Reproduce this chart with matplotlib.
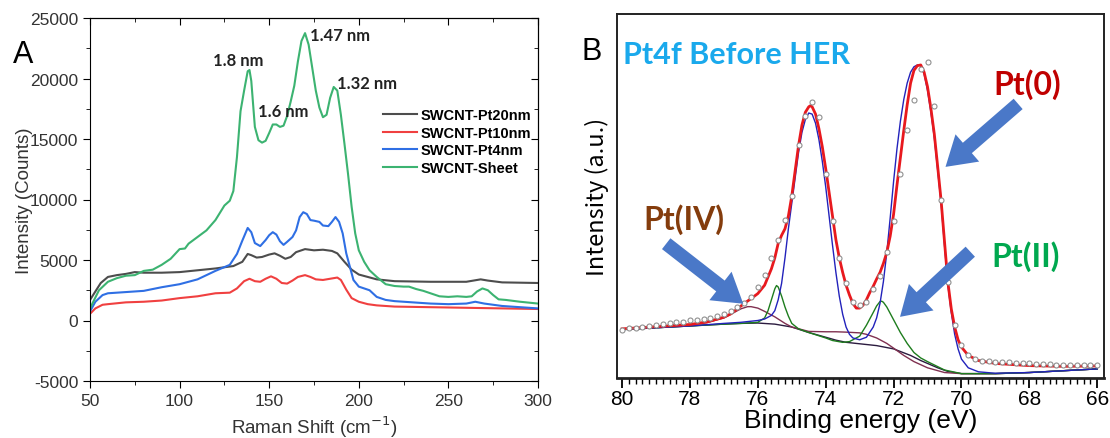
import numpy as np
import matplotlib
matplotlib.use("Agg")
import matplotlib.pyplot as plt

plt.rcParams["font.family"] = ["Liberation Sans", "DejaVu Sans"]
plt.rcParams["axes.unicode_minus"] = False

# ---------------- Panel A : Raman RBM region ----------------
sheet_x = [50, 55, 60, 65, 70, 75, 80, 85, 90, 95, 100, 103, 105, 110, 115, 120, 125, 128,
           130, 132, 134, 136, 138, 139, 140, 142, 144, 146, 148, 150, 152, 154, 156, 158,
           160, 162, 164, 166, 168, 170, 172, 174, 176, 178, 180, 182, 184, 186, 188, 190,
           192, 194, 196, 198, 200, 203, 206, 210, 215, 220, 225, 228, 232, 236, 240, 245,
           250, 255, 260, 263, 266, 269, 272, 275, 278, 282, 290, 300]
sheet_y = [1000, 2500, 3200, 3500, 3700, 3750, 4100, 4200, 4600, 5100, 5900, 5950, 6350, 6900,
           7450, 8300, 9500, 9900, 10700, 13500, 17300, 19000, 20600, 20700, 19800, 16000,
           14900, 14700, 14850, 15500, 16200, 16200, 16000, 16100, 16900, 18100, 19400, 21400,
           23100, 23750, 22800, 20900, 19000, 17600, 16800, 17000, 18400, 19300, 19000, 17000,
           14600, 12100, 9400, 7200, 5800, 4850, 4150, 3600, 3000, 2850, 2800, 2800, 2600, 2450,
           2250, 2000, 1950, 2000, 1950, 2000, 2400, 2650, 2500, 2100, 1750, 1700, 1550, 1400]

pt20_x = [50, 53, 56, 60, 65, 70, 75, 80, 90, 100, 110, 120, 130, 135, 138, 140, 143, 146,
          150, 153, 156, 159, 162, 165, 170, 175, 180, 185, 188, 192, 196, 200, 205, 210,
          220, 240, 260, 268, 272, 280, 300]
pt20_y = [1700, 2400, 3100, 3600, 3750, 3850, 4000, 3950, 3950, 4000, 4150, 4300, 4500, 4850,
          5500, 5400, 5200, 5250, 5450, 5550, 5350, 5100, 5250, 5650, 5900, 5800, 5850, 5750,
          5550, 4850, 4200, 3800, 3600, 3400, 3250, 3200, 3200, 3400, 3300, 3150, 3100]

pt4_x = [50, 53, 57, 60, 70, 80, 90, 100, 110, 120, 128, 132, 135, 138, 140, 142, 145, 148,
         150, 152, 154, 156, 158, 160, 163, 165, 167, 169, 171, 173, 175, 178, 180, 183, 185,
         187, 189, 191, 193, 195, 197, 200, 203, 206, 210, 215, 220, 230, 240, 250, 260, 265,
         270, 280, 300]
pt4_y = [750, 1550, 2100, 2250, 2350, 2450, 2750, 3000, 3400, 4100, 4600, 5500, 6600, 7650,
         7300, 6400, 6150, 6650, 7050, 7300, 7100, 6550, 6250, 6500, 6900, 7450, 8550, 8950,
         8800, 8300, 8250, 8150, 7850, 7800, 8150, 8550, 8150, 7200, 5550, 4450, 3350, 2800,
         2650, 2500, 1950, 1700, 1600, 1500, 1400, 1350, 1400, 1550, 1400, 1200, 1000]

pt10_x = [50, 53, 57, 60, 70, 80, 90, 100, 110, 120, 128, 132, 136, 139, 142, 145, 148, 151,
          154, 157, 160, 163, 166, 170, 173, 176, 180, 184, 188, 190, 193, 196, 200, 205, 210,
          220, 240, 260, 280, 300]
pt10_y = [550, 1000, 1300, 1350, 1500, 1550, 1650, 1850, 2000, 2250, 2300, 2650, 3250, 3450,
          3250, 3200, 3450, 3650, 3450, 3100, 3050, 3300, 3600, 3750, 3600, 3400, 3350, 3450,
          3550, 3350, 2550, 1850, 1550, 1350, 1250, 1150, 1100, 1050, 1000, 950]

peak_labels = ["1.8 nm", "1.6 nm", "1.47 nm", "1.32 nm"]
peak_lx = [133, 158, 189.5, 204.5]
peak_ly = [21570, 17310, 23630, 19590]

# ---------------- Panel B : Pt4f XPS ----------------
data_e = [80.0, 79.8, 79.6, 79.4, 79.2, 79.0, 78.8, 78.6, 78.4, 78.2, 78.0, 77.8, 77.6, 77.4,
          77.2, 77.0, 76.8, 76.6, 76.4, 76.2, 76.0, 75.8, 75.6, 75.4, 75.2, 75.0, 74.8, 74.6,
          74.4, 74.2, 74.0, 73.8, 73.6, 73.4, 73.2, 73.0, 72.8, 72.6, 72.4, 72.2, 72.0, 71.8,
          71.6, 71.4, 71.2, 71.0, 70.8, 70.6, 70.4, 70.2, 70.0, 69.8, 69.6, 69.4, 69.2, 69.0,
          68.8, 68.6, 68.4, 68.2, 68.0, 67.8, 67.6, 67.4, 67.2, 67.0, 66.8, 66.6, 66.4, 66.2,
          66.0]
data_i = [133, 136, 137, 140, 143, 145, 147, 150, 153, 155, 158, 160, 163, 166, 170, 176, 183,
          195, 205, 222, 250, 283, 330, 380, 435, 500, 640, 720, 757, 718, 560, 430, 330, 260,
          210, 200, 210, 245, 280, 345, 430, 560, 680, 765, 850, 868, 748, 488, 263, 145, 90,
          64, 53, 48, 46, 45, 44, 43, 42, 41, 40, 39, 38, 38, 37, 36, 36, 35, 35, 35, 35]

env_e = [80.0, 79.0, 78.0, 77.5, 77.0, 76.8, 76.6, 76.4, 76.2, 76.0, 75.8, 75.6, 75.5, 75.4,
         75.3, 75.2, 75.1, 75.0, 74.9, 74.8, 74.7, 74.6, 74.5, 74.45, 74.4, 74.3, 74.2, 74.1,
         74.0, 73.9, 73.8, 73.7, 73.6, 73.5, 73.4, 73.3, 73.2, 73.1, 73.0, 72.9, 72.8, 72.7,
         72.6, 72.5, 72.4, 72.3, 72.2, 72.1, 72.0, 71.9, 71.8, 71.7, 71.6, 71.5, 71.4, 71.3,
         71.2, 71.1, 71.0, 70.9, 70.8, 70.7, 70.6, 70.5, 70.4, 70.3, 70.2, 70.1, 70.0, 69.8,
         69.5, 69.0, 68.0, 67.0, 66.0]
env_i = [135, 141, 147, 154, 167, 176, 190, 205, 218, 232, 255, 300, 330, 370, 392, 410, 445,
         500, 570, 639, 695, 730, 745, 748, 745, 725, 685, 635, 575, 510, 445, 380, 330, 290,
         255, 228, 205, 192, 192, 200, 215, 235, 252, 272, 290, 315, 345, 390, 450, 530, 605,
         680, 750, 810, 845, 858, 860, 840, 800, 740, 670, 580, 488, 375, 263, 190, 140, 105,
         85, 62, 48, 40, 34, 32, 33]

pt0_e = [80.0, 78.0, 77.0, 76.5, 76.0, 75.8, 75.6, 75.5, 75.4, 75.3, 75.2, 75.1, 75.0, 74.9,
         74.8, 74.7, 74.6, 74.5, 74.4, 74.3, 74.2, 74.1, 74.0, 73.9, 73.8, 73.7, 73.6, 73.5,
         73.4, 73.3, 73.2, 73.0, 72.8, 72.6, 72.5, 72.4, 72.3, 72.2, 72.1, 72.0, 71.9, 71.8,
         71.7, 71.6, 71.5, 71.4, 71.3, 71.2, 71.1, 71.0, 70.9, 70.8, 70.7, 70.6, 70.5, 70.4,
         70.3, 70.2, 70.1, 70.0, 69.8, 69.5, 69.0, 68.0, 67.0, 66.0]
pt0_i = [133, 143, 150, 153, 158, 162, 172, 185, 215, 260, 330, 410, 480, 550, 620, 675, 710,
         728, 725, 700, 655, 595, 525, 445, 365, 290, 225, 175, 140, 120, 110, 105, 112, 140,
         165, 205, 265, 345, 440, 540, 630, 705, 765, 810, 840, 855, 860, 858, 835, 790, 730,
         660, 570, 480, 365, 255, 180, 120, 80, 52, 28, 17, 13, 15, 20, 25]

pt2_e = [80.0, 78.0, 77.0, 76.5, 76.0, 75.8, 75.7, 75.6, 75.5, 75.45, 75.4, 75.3, 75.2, 75.1,
         75.0, 74.8, 74.5, 74.0, 73.8, 73.5, 73.3, 73.0, 72.8, 72.6, 72.5, 72.4, 72.35, 72.3,
         72.2, 72.0, 71.8, 71.6, 71.4, 71.2, 71.0, 70.5, 70.0, 69.0, 68.0, 67.0, 66.0]
pt2_i = [133, 143, 148, 150, 153, 165, 185, 215, 245, 254, 250, 225, 195, 170, 150, 135, 125,
         110, 103, 98, 100, 115, 145, 180, 198, 210, 211, 208, 195, 160, 125, 95, 70, 55, 45,
         22, 12, 12, 15, 20, 25]

pt4_e = [80.0, 79.0, 78.0, 77.5, 77.0, 76.7, 76.5, 76.3, 76.2, 76.0, 75.8, 75.5, 75.2, 75.0,
         74.5, 74.0, 73.7, 73.4, 73.0, 72.8, 72.5, 72.2, 72.0, 71.7, 71.4, 71.0, 70.5, 70.0,
         69.0, 68.0, 67.0, 66.0]
pt4_i = [135, 140, 146, 152, 165, 180, 190, 196, 196, 192, 183, 168, 150, 140, 128, 127, 127,
         126, 124, 120, 110, 95, 82, 62, 45, 28, 15, 12, 12, 15, 20, 25]

bg_e = [80.0, 79.0, 78.0, 77.0, 76.5, 76.0, 75.5, 75.0, 74.5, 74.0, 73.7, 73.4, 73.0, 72.5,
        72.0, 71.5, 71.2, 71.0, 70.7, 70.4, 70.0, 69.0, 68.0, 67.0, 66.0]
bg_i = [133, 138, 143, 148, 150, 151, 148, 140, 125, 112, 104, 98, 94, 89, 80, 62, 48, 40, 28,
        18, 12, 12, 15, 20, 25]

W, H = 1110, 439
fig = plt.figure(figsize=(W / 100, H / 100), dpi=100)
fig.patch.set_facecolor("white")

# ---- A ----
axA = fig.add_axes([90 / W, 1 - 382 / H, 448 / W, 363 / H])
axA.plot(pt20_x, pt20_y, color="#4d4d4d", lw=1.5, label="SWCNT-Pt20nm")
axA.plot(pt10_x, pt10_y, color="#f04040", lw=1.5, label="SWCNT-Pt10nm")
axA.plot(pt4_x, pt4_y, color="#2f6fe4", lw=1.5, label="SWCNT-Pt4nm")
axA.plot(sheet_x, sheet_y, color="#3cb371", lw=1.5, label="SWCNT-Sheet")
axA.set_xlim(50, 300)
axA.set_ylim(-5000, 25000)
axA.set_xticks(range(50, 301, 50))
axA.set_xticks(range(75, 300, 50), minor=True)
axA.set_yticks(range(-5000, 25001, 5000))
axA.set_yticks(range(-2500, 25000, 5000), minor=True)
axA.tick_params(which="both", direction="out", labelsize=12.5, labelcolor="#333333")
axA.tick_params(which="major", length=5)
axA.tick_params(which="minor", length=3)
sx = axA.secondary_xaxis("top")
sx.set_xticks(range(50, 301, 50))
sx.set_xticks(range(75, 300, 50), minor=True)
sx.tick_params(which="major", direction="in", length=5, labeltop=False)
sx.tick_params(which="minor", direction="in", length=3)
sy = axA.secondary_yaxis("right")
sy.set_yticks(range(-5000, 25001, 5000))
sy.set_yticks(range(-2500, 25000, 5000), minor=True)
sy.tick_params(which="major", direction="in", length=5, labelright=False)
sy.tick_params(which="minor", direction="in", length=3)
axA.set_xlabel("Raman Shift (cm$^{-1}$)", fontsize=13.5, color="#333333", labelpad=4)
axA.set_ylabel("Intensity (Counts)", fontsize=13.5, color="#333333", labelpad=-2)
for t, lx, ly in zip(peak_labels, peak_lx, peak_ly):
    axA.text(lx, ly, t, fontsize=12, fontweight="bold", family="Lato",
             ha="center", va="center", color="#222222")
axA.legend(loc="upper left", bbox_to_anchor=(0.654, 0.752), frameon=False,
           prop={"weight": "bold", "size": 10.5, "family": "Liberation Sans"},
           handlelength=2.3, handletextpad=0.3, labelspacing=0.25,
           borderpad=0, borderaxespad=0)
fig.text(23 / W, 1 - 55 / H, "A", fontsize=22, ha="center", va="center")

# ---- B ----
axB = fig.add_axes([617 / W, 1 - 379 / H, 487 / W, 364 / H])
axB.plot(bg_e, bg_i, color="#2b1b3f", lw=1.0)
axB.plot(pt4_e, pt4_i, color="#803050", lw=1.0)
axB.plot(pt2_e, pt2_i, color="#1e7d1e", lw=1.0)
axB.plot(pt0_e, pt0_i, color="#2222bb", lw=1.0)
axB.plot(env_e, env_i, color="#e8191e", lw=2.0)
axB.plot(data_e, data_i, ls="none", marker="o", ms=3.6, mfc="white",
         mec="#909090", mew=0.8)
axB.set_xlim(80.15, 65.8)
axB.set_ylim(0, 1000)
axB.set_xticks(range(80, 65, -2))
axB.set_xticks(np.arange(66, 80.01, 0.2), minor=True)
axB.set_yticks([])
axB.tick_params(axis="x", which="major", direction="out", length=7, width=1.3,
                labelsize=15, pad=1)
axB.tick_params(axis="x", which="minor", direction="out", length=4, width=1.0)
for k, s in axB.spines.items():
    s.set_linewidth(1.4)
    s.set_color("#222222")
axB.spines["bottom"].set_linewidth(2.0)
axB.set_xlabel("Binding energy (eV)", fontsize=19, labelpad=0)
axB.set_ylabel("Intensity (a.u.)", fontsize=17, family="Noto Sans CJK JP", labelpad=6)

axB.text(79.97, 890, "Pt4f Before HER", fontsize=22, fontweight="bold", family="Lato",
         color="#1aa9ec", ha="left", va="center")
axB.text(68.06, 808, "Pt(0)", fontsize=23, fontweight="bold", family="Lato",
         color="#c00000", ha="center", va="center")
axB.text(78.17, 437, "Pt(IV)", fontsize=23, fontweight="bold", family="Lato",
         color="#843c0c", ha="center", va="center")
axB.text(68.12, 336, "Pt(II)", fontsize=23, fontweight="bold", family="Lato",
         color="#00a84f", ha="center", va="center")

arrow = dict(arrowstyle="simple,head_length=0.8,head_width=1.0,tail_width=0.38",
             color="#4a78c8", lw=0, shrinkA=0, shrinkB=0, mutation_scale=26)
axB.annotate("", xy=(70.47, 580), xytext=(68.33, 753), arrowprops=arrow)
axB.annotate("", xy=(76.43, 204), xytext=(78.70, 369), arrowprops=arrow)
axB.annotate("", xy=(71.81, 168), xytext=(69.74, 347), arrowprops=arrow)
fig.text(592 / W, 1 - 52 / H, "B", fontsize=22, ha="center", va="center")

fig.savefig("out.png", dpi=100)
